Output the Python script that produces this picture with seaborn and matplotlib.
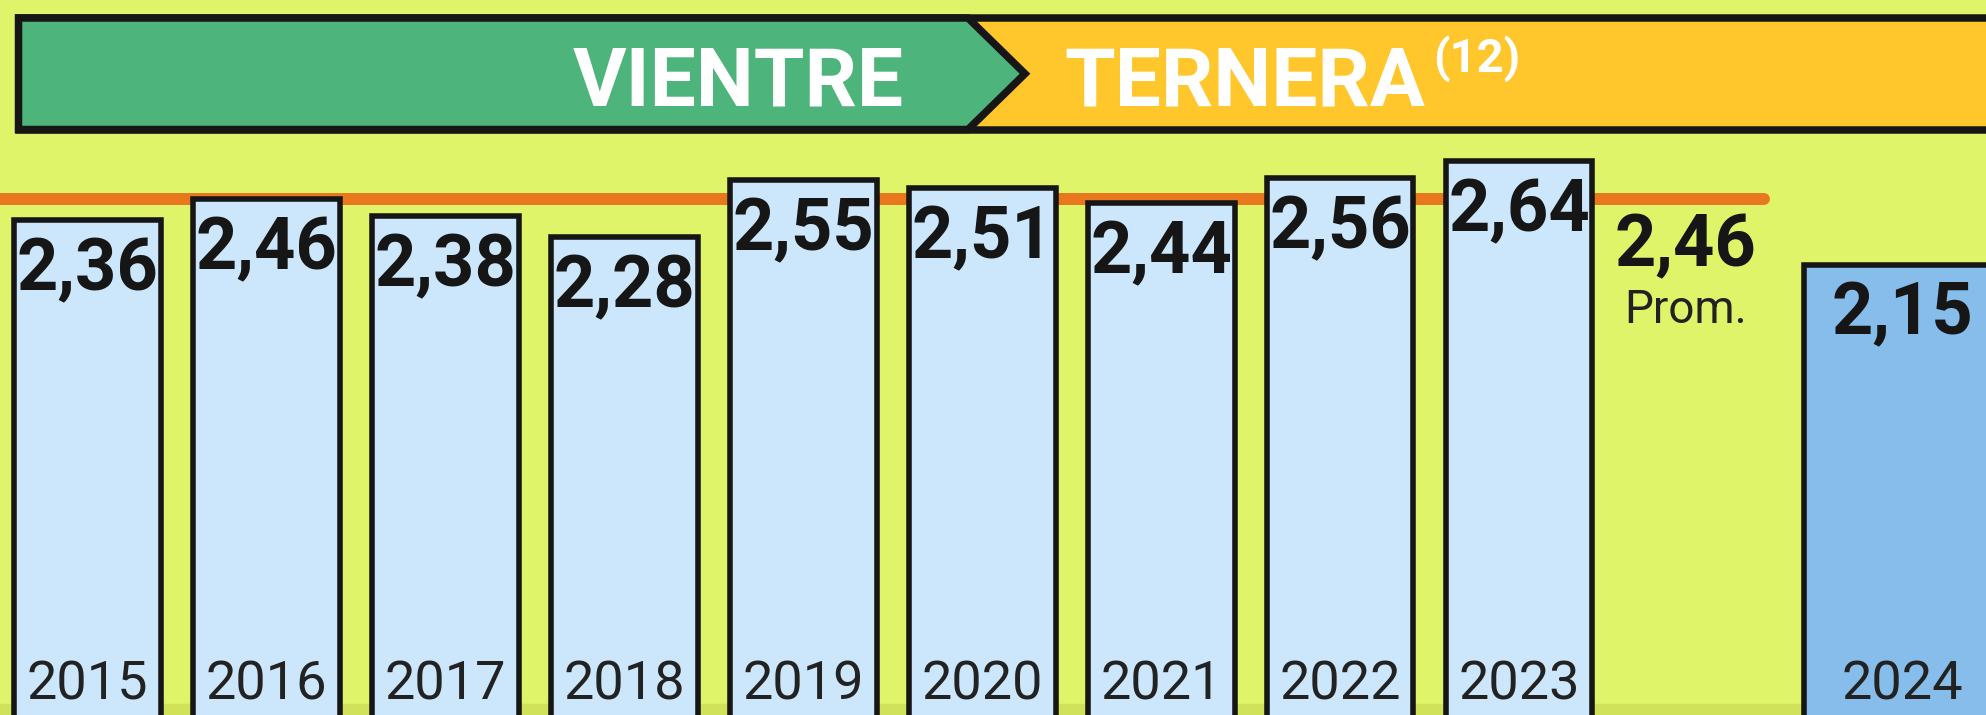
import matplotlib
matplotlib.use("Agg")
import matplotlib.pyplot as plt
from matplotlib.patches import Polygon, Rectangle
import pandas as pd
import seaborn as sns

# Data
years = ["2015", "2016", "2017", "2018", "2019", "2020", "2021", "2022", "2023", "2024"]
values = [2.36, 2.46, 2.38, 2.28, 2.55, 2.51, 2.44, 2.56, 2.64, 2.15]
prom = 2.46
prom_label = "Prom."
header_left = "VIENTRE"
header_right = "TERNERA"
header_note = "(12)"

# Colours
BG = "#E0F46A"
LIGHT = "#CCE7FC"
DARK = "#86BDEA"
INK = "#161616"
GREEN = "#4DB57B"
YELLOW = "#FFC72C"
ORANGE = "#E8771E"

df = pd.DataFrame({"year": years, "value": values})
order = years[:-1] + [" "] + years[-1:]   # empty slot for the average label
palette = {y: LIGHT for y in years}
palette["2024"] = DARK

sns.set_style("white")
fig = plt.figure(figsize=(19.86, 7.15), dpi=100, facecolor=BG)
ax = fig.add_axes([0, 0, 1, 1])

sns.barplot(data=df, x="year", y="value", hue="year", order=order, hue_order=years,
            palette=palette, legend=False, saturation=1, width=0.82,
            edgecolor=INK, linewidth=4, errorbar=None, ax=ax, zorder=3)
bars = sorted([p for p in ax.patches if p.get_height() > 0], key=lambda p: p.get_x())
bars[-1].set_width(1.1)   # 2024 bar is drawn wider

ax.set_xlim(-0.49, 10.61)
ax.set_ylim(0.024, 3.40)
ax.axis("off")

# grass strip at the bottom
ax.axhspan(0.0, 0.075, color="#CFE25A", zorder=0.5)

# average line
ax.hlines(prom, -0.6, 9.37, color=ORANGE, linewidth=8.6, capstyle="round", zorder=1)

for bar, year, val in zip(bars, years, values):
    cx = bar.get_x() + bar.get_width() / 2
    ax.annotate(f"{val:.2f}".replace(".", ","), xy=(cx, val), xytext=(0, -11.5),
                textcoords="offset points", ha="center", va="top",
                fontfamily="Roboto", fontweight="bold", fontsize=52, color=INK, zorder=5)
    ax.text(cx, 0.099, year, ha="center", va="baseline", fontfamily="Roboto",
            fontsize=39, color="#222222", zorder=5)

slot = order.index(" ")
ax.annotate(f"{prom:.2f}".replace(".", ","), xy=(slot, prom), xytext=(-9, -9.5),
            textcoords="offset points", ha="center", va="top",
            fontfamily="Roboto", fontweight="bold", fontsize=52, color=INK)
ax.annotate(prom_label, xy=(slot, prom), xytext=(-9, -64),
            textcoords="offset points", ha="center", va="top",
            fontfamily="Roboto", fontsize=33, color="#222222")

# header banner (pixel coordinates)
hx = fig.add_axes([0, 0, 1, 1], zorder=10)
hx.set_xlim(0, 1986)
hx.set_ylim(715, 0)
hx.axis("off")
hx.add_patch(Rectangle((18.5, 18), 2000, 111.5, facecolor=YELLOW, edgecolor=INK,
                       linewidth=5.4, joinstyle="miter"))
hx.add_patch(Polygon([(18.5, 18), (968, 18), (1025, 73.75), (968, 129.5), (18.5, 129.5)],
                     closed=True, facecolor=GREEN, edgecolor=INK, linewidth=5.4,
                     joinstyle="miter"))
hx.text(904, 106, header_left, ha="right", va="baseline", color="white",
        fontfamily="Roboto", fontweight="bold", fontsize=59)
t_right = hx.text(1064, 106, header_right, ha="left", va="baseline", color="white",
                  fontfamily="Roboto", fontweight="bold", fontsize=59)
hx.annotate(header_note, xy=(1, 1), xycoords=t_right, xytext=(6, 7),
            textcoords="offset points", ha="left", va="top", color="white",
            fontfamily="Roboto", fontweight="bold", fontsize=34)

fig.savefig("out.png", dpi=100, facecolor=BG)
